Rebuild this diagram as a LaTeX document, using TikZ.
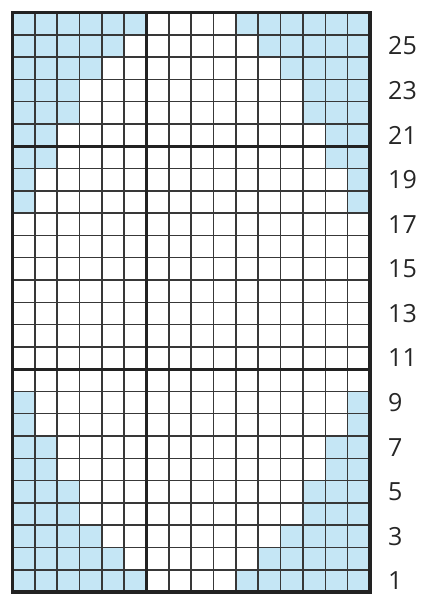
\documentclass[tikz,border=0pt]{standalone}
\usepackage{fontspec}
\setmainfont{Open Sans}
\definecolor{cellblue}{HTML}{C5E6F5}
\definecolor{gridline}{HTML}{383838}
\definecolor{gridthick}{HTML}{222222}
\begin{document}
\begin{tikzpicture}[x=1pt,y=-1pt,
  thinline/.style={draw=gridline,line width=1.5pt},
  thickline/.style={draw=gridthick,line width=2.8pt},
  borderline/.style={draw=gridthick,line width=3.2pt},
  lab/.style={anchor=west,inner sep=0pt,font=\fontsize{25}{25}\selectfont,text=black!85}]
\useasboundingbox (0,0) rectangle (427,594);
\pgfmathsetmacro{\cw}{22.34}
\pgfmathsetmacro{\ch}{22.29}
\pgfmathsetmacro{\xo}{12.5}
\pgfmathsetmacro{\yo}{12.5}
\pgfmathsetmacro{\xe}{\xo+16*\cw}
\pgfmathsetmacro{\ye}{\yo+26*\ch}
% blue cells: row (from bottom) / count
\foreach \r/\n in {1/6,2/5,3/4,4/3,5/3,6/2,7/2,8/1,9/1,18/1,19/1,20/2,21/2,22/3,23/3,24/4,25/5,26/6}{
  \fill[cellblue] (\xo,{\ye-\r*\ch}) rectangle ++({\n*\cw},\ch);
  \fill[cellblue] ({\xe-\n*\cw},{\ye-\r*\ch}) rectangle ++({\n*\cw},\ch);
}
% thin grid lines
\foreach \i in {1,...,15}{
  \draw[thinline] ({\xo+\i*\cw},\yo) -- ({\xo+\i*\cw},\ye);
}
\foreach \j in {1,...,25}{
  \draw[thinline] (\xo,{\yo+\j*\ch}) -- (\xe,{\yo+\j*\ch});
}
% thick dividers
\draw[thickline] ({\xo+6*\cw},\yo) -- ({\xo+6*\cw},\ye);
\draw[thickline] (\xo,{\ye-10*\ch}) -- (\xe,{\ye-10*\ch});
\draw[thickline] (\xo,{\ye-20*\ch}) -- (\xe,{\ye-20*\ch});
% border
\draw[borderline] (\xo,\yo) rectangle (\xe,\ye);
% labels
\foreach \r in {1,3,...,25}{
  \node[lab] (l\r) at (388,{\ye-(\r-0.5)*\ch}) {\r};
}
\end{tikzpicture}
\end{document}
